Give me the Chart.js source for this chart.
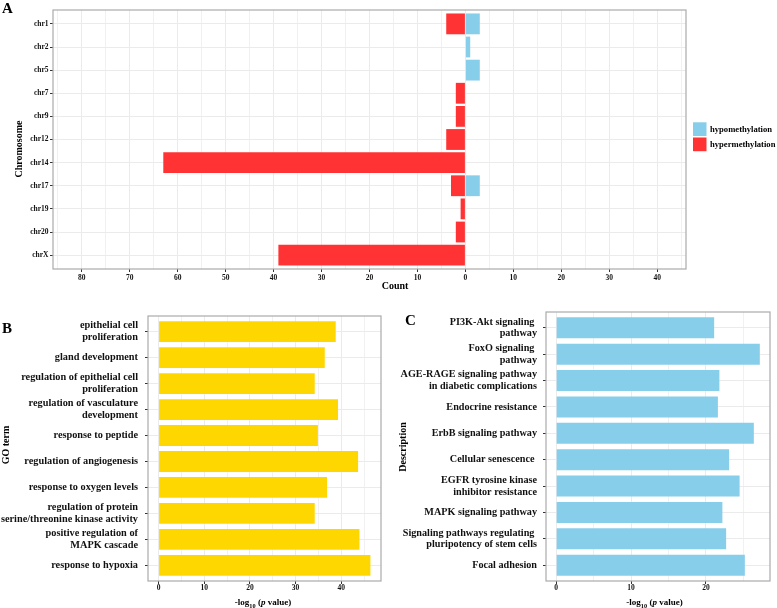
<!DOCTYPE html>
<html>
<head>
<meta charset="utf-8">
<script src="https://cdn.jsdelivr.net/npm/chart.js@4.4.0/dist/chart.umd.min.js"></script>
<style>
  html, body { margin: 0; padding: 0; background: #fff; }
  body { width: 777px; height: 608px; position: relative; overflow: hidden; }
  .panel { position: absolute; }
</style>
</head>
<body>
<div class="panel" style="left:0;top:0"><canvas id="chartA" width="777" height="300"></canvas></div>
<div class="panel" style="left:0;top:300px"><canvas id="chartB" width="385" height="308"></canvas></div>
<div class="panel" style="left:385px;top:300px"><canvas id="chartC" width="392" height="308"></canvas></div>

<script>
// Panel A: DMR counts per chromosome
var chromosomes = ["chr1", "chr2", "chr5", "chr7", "chr9", "chr12", "chr14", "chr17", "chr19", "chr20", "chrX"];
var hypoCounts = [3, 1, 3, 0, 0, 0, 0, 3, 0, 0, 0];
var hyperCounts = [4, 0, 0, 2, 2, 4, 63, 3, 1, 2, 39];
var countTicks = [-80, -70, -60, -50, -40, -30, -20, -10, 0, 10, 20, 30, 40];

// Panel B: GO terms
var goTerms = [
  ["epithelial cell", "proliferation"],
  "gland development",
  ["regulation of epithelial cell", "proliferation"],
  ["regulation of vasculature", "development"],
  "response to peptide",
  "regulation of angiogenesis",
  "response to oxygen levels",
  ["regulation of protein", "serine/threonine kinase activity"],
  ["positive regulation of", "MAPK cascade"],
  "response to hypoxia"
];
var goValues = [38.8, 36.4, 34.2, 39.3, 34.9, 43.7, 36.9, 34.2, 44.0, 46.4];
var goTicks = [0, 10, 20, 30, 40];

// Panel C: KEGG pathways
var keggTerms = [
  ["PI3K-Akt signaling ", "pathway"],
  ["FoxO signaling ", "pathway"],
  ["AGE-RAGE signaling pathway", "in diabetic complications"],
  "Endocrine resistance",
  "ErbB signaling pathway",
  "Cellular senescence ",
  ["EGFR tyrosine kinase", "inhibitor resistance"],
  "MAPK signaling pathway",
  ["Signaling pathways regulating ", "pluripotency of stem cells"],
  "Focal adhesion"
];
var keggValues = [21.1, 27.2, 21.8, 21.6, 26.4, 23.1, 24.5, 22.2, 22.7, 25.2];
var keggTicks = [0, 10, 20];

var SERIF = '"Liberation Serif", "Times New Roman", serif';
var TEXT = "#111";
var GRID = "#EBEBEB";
var TICKMARK = "#333";

// major ticks plus the minor lines half way between them
function withMinor(major, lo, hi) {
  var step = major[1] - major[0];
  var all = [];
  for (var v = major[0] - step / 2; v <= hi; v += step / 2) {
    if (v >= lo) all.push(v);
  }
  return all;
}
function isMajor(list, v) {
  return list.indexOf(v) !== -1;
}

function drawTitleParts(ctx, parts, cx, cy) {
  var total = 0;
  parts.forEach(function (p) {
    ctx.font = p.font;
    total += ctx.measureText(p.text).width;
  });
  var x = cx - total / 2;
  ctx.textAlign = "left";
  ctx.textBaseline = "alphabetic";
  parts.forEach(function (p) {
    ctx.font = p.font;
    ctx.fillText(p.text, x, cy + (p.dy || 0));
    x += ctx.measureText(p.text).width;
  });
}

var logTitle = [
  { text: "-log", font: "bold 9px " + SERIF },
  { text: "10", font: "bold 6.3px " + SERIF, dy: 2.5 },
  { text: " (", font: "bold 9px " + SERIF },
  { text: "p", font: "italic bold 9px " + SERIF },
  { text: " value)", font: "bold 9px " + SERIF }
];

function makeDecor(s) {
  return {
    id: "decor",
    afterDraw: function (chart) {
      var ctx = chart.ctx;
      var a = chart.chartArea;
      ctx.save();
      // panel border
      ctx.strokeStyle = "#ABABAB";
      ctx.lineWidth = 1.2;
      ctx.strokeRect(a.left, a.top, a.right - a.left, a.bottom - a.top);
      ctx.fillStyle = "#000";
      // panel letter
      ctx.font = "bold 15px " + SERIF;
      ctx.textAlign = "left";
      ctx.textBaseline = "alphabetic";
      ctx.fillText(s.letter, s.letterX, s.letterY);
      // y title
      ctx.save();
      ctx.translate(s.yTitleX, s.yTitleY);
      ctx.rotate(-Math.PI / 2);
      ctx.font = "bold 10px " + SERIF;
      ctx.textAlign = "center";
      ctx.textBaseline = "middle";
      ctx.fillText(s.yTitle, 0, 0);
      ctx.restore();
      // x title
      if (s.xParts) {
        drawTitleParts(ctx, s.xParts, s.xTitleX, s.xTitleY);
      } else {
        ctx.font = "bold 10px " + SERIF;
        ctx.textAlign = "center";
        ctx.textBaseline = "middle";
        ctx.fillText(s.xTitle, s.xTitleX, s.xTitleY);
      }
      // legend
      if (s.legend) {
        chart.data.datasets.forEach(function (ds, i) {
          var y = s.legend.y + i * 15.2;
          ctx.fillStyle = ds.backgroundColor;
          ctx.fillRect(s.legend.x, y, 13.5, 13.7);
          ctx.fillStyle = "#000";
          ctx.font = "bold 8.6px " + SERIF;
          ctx.textAlign = "left";
          ctx.textBaseline = "middle";
          ctx.fillText(ds.label, s.legend.x + 17, y + 7);
        });
      }
      ctx.restore();
    }
  };
}

function barScales(labels, ticks, xmin, xmax, yWidth, xHeight, yPad, xPad, labelSize) {
  var grid = withMinor(ticks, xmin, xmax);
  return {
    x: {
      type: "linear",
      min: xmin,
      max: xmax,
      afterBuildTicks: function (scale) {
        scale.ticks = grid.map(function (v) { return { value: v }; });
      },
      afterFit: function (scale) { scale.height = xHeight; },
      border: { display: false },
      grid: {
        color: GRID,
        lineWidth: function (c) { return c.tick && isMajor(ticks, c.tick.value) ? 1 : 0.7; },
        tickLength: 3,
        tickColor: function (c) { return c.tick && isMajor(ticks, c.tick.value) ? TICKMARK : "rgba(0,0,0,0)"; }
      },
      ticks: {
        autoSkip: false,
        maxRotation: 0,
        padding: xPad,
        color: TEXT,
        font: { family: SERIF, size: 7.5, weight: "bold" },
        callback: function (v) { return isMajor(ticks, v) ? String(Math.abs(v)) : ""; }
      }
    },
    y: {
      type: "linear",
      min: -0.6,
      max: labels.length - 0.4,
      reverse: true,
      offset: false,
      stacked: true,
      afterBuildTicks: function (scale) {
        scale.ticks = labels.map(function (l, i) { return { value: i }; });
      },
      afterFit: function (scale) { scale.width = yWidth; },
      border: { display: false },
      grid: { color: GRID, lineWidth: 1, offset: false, tickLength: 3, tickColor: TICKMARK },
      ticks: {
        autoSkip: false,
        padding: yPad,
        color: TEXT,
        font: { family: SERIF, size: labelSize, weight: "bold", lineHeight: 1.15 },
        callback: function (v) { return labels[v]; }
      }
    }
  };
}

function points(values) {
  return values.map(function (v, i) { return { x: v, y: i }; });
}

var common = {
  responsive: false,
  animation: false,
  indexAxis: "y",
  plugins: { legend: { display: false }, tooltip: { enabled: false } }
};

// Panel A
var scalesA = barScales(chromosomes, countTicks, -86, 46, 53, 31, 1.5, 1.5, 7.5);
scalesA.x.stacked = true;
new Chart(document.getElementById("chartA"), {
  type: "bar",
  data: {
    datasets: [
      {
        label: "hypomethylation",
        data: points(hypoCounts),
        backgroundColor: "#87CEEB",
        barPercentage: 0.9,
        categoryPercentage: 1
      },
      {
        label: "hypermethylation",
        data: points(hyperCounts.map(function (v) { return -v; })),
        backgroundColor: "#FF3333",
        barPercentage: 0.9,
        categoryPercentage: 1
      }
    ]
  },
  options: Object.assign({}, common, {
    layout: { padding: { top: 10, right: 91, bottom: 0, left: 0 } },
    scales: scalesA
  }),
  plugins: [makeDecor({
    letter: "A", letterX: 2, letterY: 13,
    yTitle: "Chromosome", yTitleX: 19, yTitleY: 149,
    xTitle: "Count", xTitleX: 395, xTitleY: 286,
    legend: { x: 693, y: 122.3 }
  })]
});

// Panel B
var maxB = Math.max.apply(null, goValues);
new Chart(document.getElementById("chartB"), {
  type: "bar",
  data: {
    datasets: [{
      label: "GO",
      data: points(goValues),
      backgroundColor: "#FFD700",
      barPercentage: 0.8,
      categoryPercentage: 1
    }]
  },
  options: Object.assign({}, common, {
    layout: { padding: { top: 16, right: 4, bottom: 0, left: 0 } },
    scales: barScales(goTerms, goTicks, -0.05 * maxB, 1.05 * maxB, 148, 27, 7, 0, 10.3)
  }),
  plugins: [makeDecor({
    letter: "B", letterX: 2, letterY: 33,
    yTitle: "GO term", yTitleX: 6, yTitleY: 145,
    xParts: logTitle, xTitleX: 263, xTitleY: 305
  })]
});

// Panel C
var maxC = Math.max.apply(null, keggValues);
new Chart(document.getElementById("chartC"), {
  type: "bar",
  data: {
    datasets: [{
      label: "KEGG",
      data: points(keggValues),
      backgroundColor: "#87CEEB",
      barPercentage: 0.8,
      categoryPercentage: 1
    }]
  },
  options: Object.assign({}, common, {
    layout: { padding: { top: 12, right: 7, bottom: 0, left: 0 } },
    scales: barScales(keggTerms, keggTicks, -0.05 * maxC, 1.05 * maxC, 161, 27, 6, 0, 10.2)
  }),
  plugins: [makeDecor({
    letter: "C", letterX: 20, letterY: 25,
    yTitle: "Description", yTitleX: 18, yTitleY: 147,
    xParts: logTitle, xTitleX: 269.5, xTitleY: 305
  })]
});
</script>
</body>
</html>
